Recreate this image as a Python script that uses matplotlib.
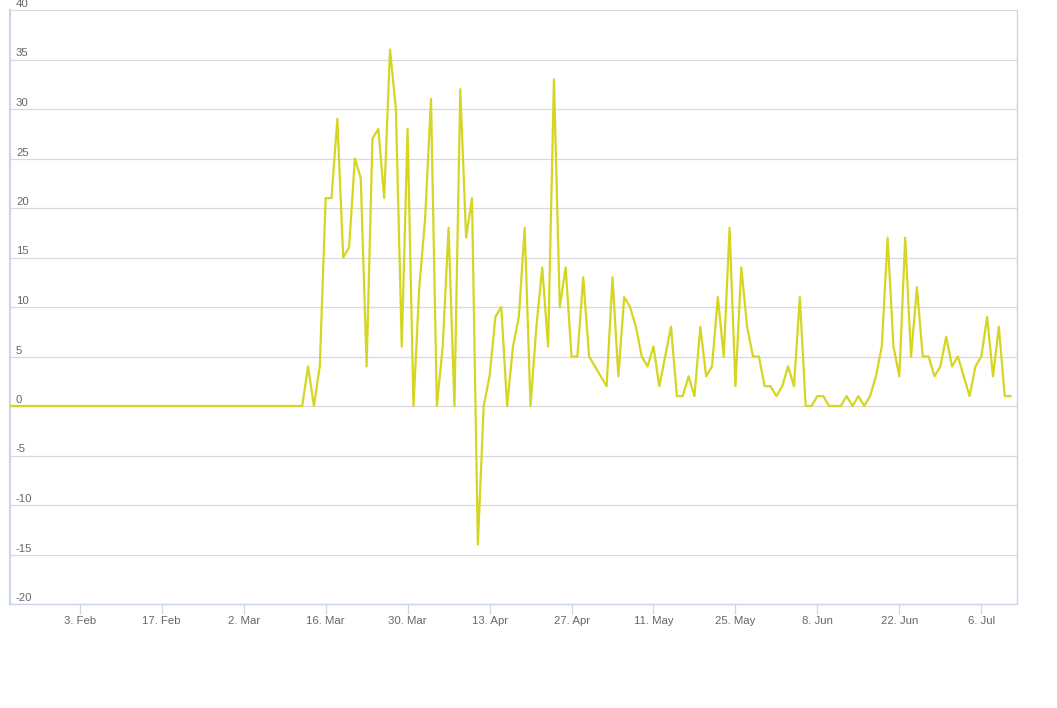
import numpy as np
import pandas as pd
import matplotlib
matplotlib.use("Agg")
import matplotlib.pyplot as plt
import matplotlib.transforms as mtransforms

plt.rcParams['font.family'] = ['Liberation Sans', 'DejaVu Sans']

# daily values, starting 22 Jan 2020
start_date = '2020-01-22'
values = [
    0, 0, 0, 0, 0, 0, 0, 0, 0, 0,
    0, 0, 0, 0, 0, 0, 0, 0, 0, 0,
    0, 0, 0, 0, 0, 0, 0, 0, 0, 0,
    0, 0, 0, 0, 0, 0, 0, 0, 0, 0,
    0, 0, 0, 0, 0, 0, 0, 0, 0, 0,
    0, 4, 0, 4, 21, 21, 29, 15, 16, 25,
    23, 4, 27, 28, 21, 36, 30, 6, 28, 0,
    12, 19, 31, 0, 6, 18, 0, 32, 17, 21,
    -14, 0, 3, 9, 10, 0, 6, 9, 18, 0,
    8, 14, 6, 33, 10, 14, 5, 5, 13, 5,
    4, 3, 2, 13, 3, 11, 10, 8, 5, 4,
    6, 2, 5, 8, 1, 1, 3, 1, 8, 3,
    4, 11, 5, 18, 2, 14, 8, 5, 5, 2,
    2, 1, 2, 4, 2, 11, 0, 0, 1, 1,
    0, 0, 0, 1, 0, 1, 0, 1, 3, 6,
    17, 6, 3, 17, 5, 12, 5, 5, 3, 4,
    7, 4, 5, 3, 1, 4, 5, 9, 3, 8,
    1, 1,
]
tick_dates = ['2020-02-03', '2020-02-17', '2020-03-02', '2020-03-16',
              '2020-03-30', '2020-04-13', '2020-04-27', '2020-05-11',
              '2020-05-25', '2020-06-08', '2020-06-22', '2020-07-06']
tick_labels = ['3. Feb', '17. Feb', '2. Mar', '16. Mar', '30. Mar', '13. Apr',
               '27. Apr', '11. May', '25. May', '8. Jun', '22. Jun', '6. Jul']
y_ticks = list(range(-20, 45, 5))

dates = pd.date_range(start_date, periods=len(values), freq='D')

fig = plt.figure(figsize=(10.57, 7.08), dpi=100)
ax = fig.add_axes([10 / 1057, 104 / 708, 1007 / 1057, 594 / 708])

ax.plot(dates, values, color='#d4d622', linewidth=1.6, zorder=3)

ax.set_ylim(-20, 40)
ax.set_xlim(pd.Timestamp(start_date) + pd.Timedelta(hours=2),
            pd.Timestamp(start_date) + pd.Timedelta(days=172.1))

# grid lines
for yv in y_ticks:
    ax.axhline(yv, color='#d9d9d9', linewidth=0.9, zorder=1)
ax.set_yticks([])

# y labels sit inside the plot, just above each grid line
lab_tr = mtransforms.offset_copy(ax.get_yaxis_transform(), fig=fig, x=6, y=1, units='dots')
for yv in y_ticks:
    ax.text(0, yv, str(yv), transform=lab_tr, ha='left', va='bottom',
            fontsize=8.2, color='#666666', clip_on=False)

ax.set_xticks(pd.to_datetime(tick_dates))
ax.set_xticklabels(tick_labels, fontsize=8.2, color='#666666')
ax.tick_params(axis='x', length=7, width=0.9, color='#ccd6eb', pad=2)

for side in ['left', 'right', 'bottom']:
    ax.spines[side].set_color('#ccd6eb')
    ax.spines[side].set_linewidth(1.0)
ax.spines['left'].set_linewidth(1.6)
ax.spines['top'].set_visible(False)

fig.savefig('out.png', dpi=100)
